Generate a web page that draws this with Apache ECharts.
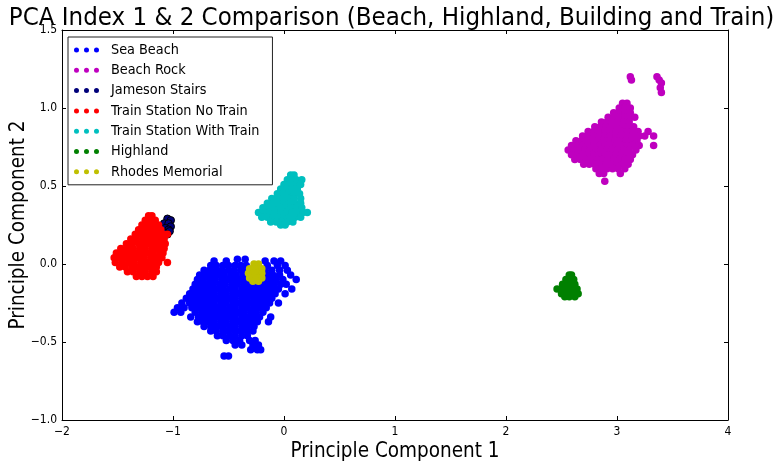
<!DOCTYPE html>
<html>
<head>
<meta charset="utf-8">
<script src="https://cdn.jsdelivr.net/npm/echarts@6/dist/echarts.min.js"></script>
<style>
  html, body { margin: 0; padding: 0; background: #fff; }
  #chart { width: 783px; height: 463px; }
</style>
</head>
<body>
<div id="chart"></div>
<script>
// PCA scores, grouped per scene as rows of [PC2, [PC1 values...]]
const seaBeachRows = [
  [0.03,  [-0.42, -0.35]],
  [0.02,  [-0.63, -0.52, -0.17, -0.09, -0.03]],
  [-0.01, [-0.66, -0.61, -0.55, -0.50, -0.44, -0.39, -0.34, -0.15, -0.06, 0.01]],
  [-0.04, [-0.72, -0.67, -0.61, -0.56, -0.50, -0.45, -0.39, -0.34, -0.28, -0.17, -0.11, -0.04, 0.03]],
  [-0.07, [-0.76, -0.70, -0.65, -0.59, -0.54, -0.48, -0.43, -0.37, -0.32, -0.26, -0.21, -0.15, -0.10, -0.04, 0.06]],
  [-0.10, [-0.78, -0.73, -0.67, -0.62, -0.56, -0.51, -0.45, -0.40, -0.34, -0.29, -0.23, -0.18, -0.12, -0.07, -0.01, 0.11]],
  [-0.13, [-0.80, -0.75, -0.69, -0.64, -0.58, -0.53, -0.47, -0.42, -0.36, -0.31, -0.25, -0.20, -0.14, -0.09, -0.03, 0.02]],
  [-0.16, [-0.82, -0.77, -0.71, -0.66, -0.60, -0.55, -0.49, -0.44, -0.38, -0.33, -0.27, -0.22, -0.16, -0.11, -0.05, 0.07]],
  [-0.19, [-0.85, -0.79, -0.74, -0.68, -0.63, -0.57, -0.52, -0.46, -0.41, -0.35, -0.30, -0.24, -0.19, -0.13, -0.08, 0.01]],
  [-0.22, [-0.88, -0.82, -0.77, -0.71, -0.66, -0.60, -0.55, -0.49, -0.44, -0.38, -0.33, -0.27, -0.22, -0.16, -0.11]],
  [-0.25, [-0.92, -0.85, -0.79, -0.74, -0.68, -0.63, -0.57, -0.52, -0.46, -0.41, -0.35, -0.30, -0.24, -0.19, -0.13, -0.05]],
  [-0.28, [-0.96, -0.90, -0.83, -0.77, -0.71, -0.66, -0.60, -0.55, -0.49, -0.44, -0.38, -0.33, -0.27, -0.22, -0.16]],
  [-0.31, [-0.99, -0.93, -0.80, -0.74, -0.69, -0.63, -0.58, -0.52, -0.47, -0.41, -0.36, -0.30, -0.25, -0.19]],
  [-0.34, [-0.84, -0.77, -0.71, -0.66, -0.60, -0.55, -0.49, -0.44, -0.38, -0.33, -0.27, -0.22, -0.12]],
  [-0.37, [-0.78, -0.73, -0.68, -0.63, -0.57, -0.52, -0.46, -0.41, -0.35, -0.30, -0.24, -0.14]],
  [-0.40, [-0.72, -0.66, -0.60, -0.55, -0.49, -0.44, -0.38, -0.33, -0.27]],
  [-0.43, [-0.66, -0.61, -0.55, -0.50, -0.44, -0.39, -0.33, -0.28]],
  [-0.46, [-0.60, -0.55, -0.49, -0.44, -0.38, -0.33]],
  [-0.49, [-0.52, -0.46, -0.40, -0.31, -0.26]],
  [-0.52, [-0.44, -0.38, -0.28, -0.23]],
  [-0.55, [-0.30, -0.24, -0.21]],
  [-0.59, [-0.54, -0.50]]
];

const beachRockRows = [
  [1.20, [3.12, 3.36]],
  [1.18, [3.13, 3.38]],
  [1.16, [3.40]],
  [1.13, [3.39]],
  [1.10, [3.40]],
  [1.03, [3.05, 3.09]],
  [1.00, [3.02, 3.07, 3.12]],
  [0.97, [2.97, 3.02, 3.07, 3.12]],
  [0.94, [2.92, 2.97, 3.02, 3.07, 3.12, 3.16]],
  [0.91, [2.86, 2.91, 2.96, 3.01, 3.06, 3.11]],
  [0.88, [2.80, 2.85, 2.90, 2.95, 3.00, 3.05, 3.10, 3.15]],
  [0.85, [2.74, 2.79, 2.84, 2.89, 2.94, 2.99, 3.04, 3.09, 3.14, 3.19, 3.28]],
  [0.82, [2.69, 2.74, 2.79, 2.84, 2.89, 2.94, 2.99, 3.04, 3.09, 3.14, 3.20, 3.25, 3.33]],
  [0.79, [2.63, 2.68, 2.73, 2.78, 2.83, 2.88, 2.93, 2.98, 3.03, 3.08, 3.13, 3.18]],
  [0.76, [2.59, 2.64, 2.69, 2.74, 2.79, 2.84, 2.89, 2.94, 2.99, 3.04, 3.09, 3.14, 3.20, 3.33]],
  [0.73, [2.56, 2.61, 2.66, 2.71, 2.76, 2.81, 2.86, 2.91, 2.96, 3.01, 3.06, 3.11, 3.17]],
  [0.70, [2.59, 2.64, 2.69, 2.74, 2.79, 2.84, 2.89, 2.94, 2.99, 3.04, 3.09, 3.14]],
  [0.67, [2.62, 2.67, 2.72, 2.77, 2.82, 2.87, 2.92, 2.97, 3.02, 3.07, 3.12]],
  [0.64, [2.70, 2.75, 2.80, 2.85, 2.90, 2.95, 3.00, 3.05, 3.10]],
  [0.61, [2.81, 2.86, 2.91, 2.96, 3.01, 3.07]],
  [0.58, [2.84, 2.88, 3.03]],
  [0.53, [2.89]]
];

const jamesonStairsRows = [
  [0.29, [-1.05]],
  [0.28, [-1.02]],
  [0.26, [-1.08, -1.04]],
  [0.24, [-1.02]],
  [0.23, [-1.07]],
  [0.22, [-1.04]],
  [0.21, [-1.03]],
  [0.20, [-1.08]],
  [0.19, [-1.05]]
];

const trainNoTrainRows = [
  [0.31,  [-1.22, -1.19]],
  [0.28,  [-1.25, -1.20, -1.16]],
  [0.25,  [-1.28, -1.23, -1.18, -1.13]],
  [0.22,  [-1.31, -1.26, -1.21, -1.16, -1.11]],
  [0.19,  [-1.34, -1.29, -1.24, -1.19, -1.14, -1.09, -1.05]],
  [0.16,  [-1.38, -1.33, -1.27, -1.22, -1.17, -1.12, -1.08]],
  [0.13,  [-1.42, -1.37, -1.31, -1.26, -1.21, -1.16, -1.11, -1.07]],
  [0.10,  [-1.47, -1.41, -1.36, -1.30, -1.25, -1.19, -1.14, -1.08]],
  [0.07,  [-1.51, -1.45, -1.40, -1.34, -1.29, -1.23, -1.18, -1.12, -1.09]],
  [0.04,  [-1.53, -1.48, -1.42, -1.37, -1.31, -1.26, -1.20, -1.15, -1.10]],
  [0.01,  [-1.52, -1.46, -1.40, -1.35, -1.29, -1.24, -1.18, -1.13, -1.05]],
  [-0.02, [-1.48, -1.43, -1.37, -1.32, -1.26, -1.21, -1.15]],
  [-0.05, [-1.41, -1.36, -1.30, -1.25, -1.19, -1.15]],
  [-0.08, [-1.33, -1.28, -1.23, -1.18]]
];

const trainWithTrainRows = [
  [0.57, [0.06, 0.09]],
  [0.54, [0.03, 0.08, 0.11, 0.16]],
  [0.51, [0.00, 0.05, 0.10, 0.15]],
  [0.48, [-0.03, 0.02, 0.07, 0.12]],
  [0.45, [-0.06, -0.01, 0.04, 0.09, 0.14]],
  [0.42, [-0.11, -0.06, -0.01, 0.04, 0.09, 0.15]],
  [0.39, [-0.15, -0.10, -0.05, 0.00, 0.05, 0.10, 0.15]],
  [0.36, [-0.19, -0.14, -0.09, -0.04, 0.01, 0.06, 0.11, 0.16]],
  [0.33, [-0.23, -0.18, -0.13, -0.08, -0.03, 0.02, 0.07, 0.12, 0.17, 0.21]],
  [0.30, [-0.20, -0.15, -0.10, -0.05, 0.00, 0.05, 0.10, 0.15]],
  [0.27, [-0.12, -0.07, -0.02, 0.03, 0.08]],
  [0.25, [-0.03, 0.01]]
];

const highlandRows = [
  [-0.07, [2.57, 2.59]],
  [-0.10, [2.54, 2.58, 2.61]],
  [-0.13, [2.51, 2.55, 2.59, 2.62]],
  [-0.16, [2.46, 2.50, 2.54, 2.58, 2.62, 2.64]],
  [-0.19, [2.50, 2.54, 2.58, 2.62, 2.65]],
  [-0.21, [2.53, 2.57, 2.62]]
];

const rhodesMemorialRows = [
  [0.00,  [-0.27, -0.23]],
  [-0.03, [-0.31, -0.27, -0.23, -0.20]],
  [-0.06, [-0.32, -0.28, -0.24, -0.20]],
  [-0.09, [-0.31, -0.27, -0.23, -0.20]],
  [-0.11, [-0.28, -0.23]]
];

const xTicks = [-2, -1, 0, 1, 2, 3, 4];
const yTicks = [-1.0, -0.5, 0.0, 0.5, 1.0, 1.5];

const groups = [
  { name: 'Sea Beach',                rows: seaBeachRows,       color: '#0000ff' },
  { name: 'Beach Rock',               rows: beachRockRows,      color: '#bf00bf' },
  { name: 'Jameson Stairs',           rows: jamesonStairsRows,  color: '#00007a', edge: '#000000' },
  { name: 'Train Station No Train',   rows: trainNoTrainRows,   color: '#ff0000' },
  { name: 'Train Station With Train', rows: trainWithTrainRows, color: '#00bfbf' },
  { name: 'Highland',                 rows: highlandRows,       color: '#008000' },
  { name: 'Rhodes Memorial',          rows: rhodesMemorialRows, color: '#bfbf00' }
];

function toPoints(rows) {
  const pts = [];
  rows.forEach(([y, xs]) => xs.forEach(x => pts.push([x, y])));
  return pts;
}

const FONT = '"DejaVu Sans Condensed", "DejaVu Sans", sans-serif';
const minus = s => String(s).replace('-', '\u2212');
const threeDots = 'path://M0,2.5a2.5,2.5 0 1,0 5,0a2.5,2.5 0 1,0 -5,0M10,2.5a2.5,2.5 0 1,0 5,0a2.5,2.5 0 1,0 -5,0M20,2.5a2.5,2.5 0 1,0 5,0a2.5,2.5 0 1,0 -5,0';

const axisCommon = {
  type: 'value',
  axisLine: { show: true, onZero: false, lineStyle: { color: '#000', width: 1 } },
  axisTick: { show: true, inside: true, length: 4, lineStyle: { color: '#000' } },
  splitLine: { show: false }
};

const chart = echarts.init(document.getElementById('chart'), null, { renderer: 'canvas' });
chart.setOption({
  animation: false,
  backgroundColor: '#fff',
  title: {
    text: 'PCA Index 1 & 2 Comparison (Beach, Highland, Building and Train)',
    left: 'center',
    top: 0,
    textStyle: { fontFamily: FONT, fontSize: 25.6, fontWeight: 'normal', color: '#000' }
  },
  grid: { left: 62, right: 55, top: 30, bottom: 43, containLabel: false, outerBoundsMode: 'none' },
  legend: {
    orient: 'vertical',
    left: 68,
    top: 37,
    padding: [5, 13, 5, 6],
    itemWidth: 25,
    itemHeight: 5,
    itemGap: 4.3,
    borderColor: '#222',
    borderWidth: 1,
    backgroundColor: '#fff',
    selectedMode: false,
    icon: threeDots,
    textStyle: { fontFamily: FONT, fontSize: 14.3, color: '#000', lineHeight: 16, padding: [0, 0, 0, 7] },
    data: groups.map(g => ({ name: g.name, icon: threeDots, itemStyle: { color: g.color, borderWidth: 0 } }))
  },
  xAxis: [
    Object.assign({}, axisCommon, {
      position: 'bottom', min: -2, max: 4, interval: 1,
      name: 'Principle Component 1', nameLocation: 'middle', nameGap: 21, nameMoveOverlap: false,
      nameTextStyle: { fontFamily: FONT, fontSize: 20.5, color: '#000' },
      axisLabel: { show: true, margin: 6, fontFamily: FONT, fontSize: 12, color: '#000', formatter: v => minus(v) }
    }),
    Object.assign({}, axisCommon, {
      position: 'top', min: -2, max: 4, interval: 1, axisLabel: { show: false }
    })
  ],
  yAxis: [
    Object.assign({}, axisCommon, {
      position: 'left', min: -1, max: 1.5, interval: 0.5,
      name: 'Principle Component 2', nameLocation: 'middle', nameGap: 33, nameMoveOverlap: false,
      nameTextStyle: { fontFamily: FONT, fontSize: 20.5, color: '#000' },
      axisLabel: { show: true, margin: 5, fontFamily: FONT, fontSize: 12, color: '#000', formatter: v => minus(v.toFixed(1)) }
    }),
    Object.assign({}, axisCommon, {
      position: 'right', min: -1, max: 1.5, interval: 0.5, axisLabel: { show: false }
    })
  ],
  series: groups.map(g => ({
    name: g.name,
    type: 'scatter',
    xAxisIndex: 0,
    yAxisIndex: 0,
    symbol: 'circle',
    symbolSize: 7.5,
    itemStyle: g.edge
      ? { color: g.color, borderColor: g.edge, borderWidth: 1, opacity: 1 }
      : { color: g.color, opacity: 1 },
    emphasis: { disabled: true },
    data: toPoints(g.rows)
  }))
});
</script>
</body>
</html>
